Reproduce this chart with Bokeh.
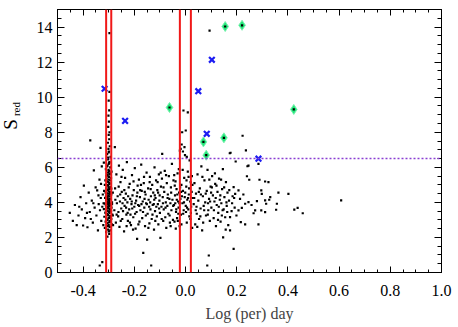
import math
from bokeh.plotting import figure
from bokeh.layouts import row
from bokeh.models import Span, LinearAxis, SingleIntervalTicker, Range1d, CustomJSTickFormatter
from bokeh.core.properties import value
from bokeh.embed import file_html
from bokeh.resources import INLINE

# ---------------- data ----------------
# blue crosses
cross_x = [-0.316, -0.236, 0.050, 0.103, 0.083, 0.285]
cross_y = [10.48, 8.65, 10.34, 12.13, 7.91, 6.49]
# green diamonds
diam_x = [-0.0625, 0.070, 0.081, 0.150, 0.155, 0.221, 0.423]
diam_y = [9.41, 7.45, 6.69, 7.68, 14.03, 14.10, 9.30]
# vertical red lines (log period) and dotted threshold
red_lines = [-0.31, -0.29, -0.022, 0.021]
threshold = 6.5

# black dots: dense column near -0.30
col_a = [
(-0.305,2.05),(-0.298,2.20),(-0.310,2.30),(-0.293,2.40),(-0.302,2.45),(-0.315,2.55),(-0.296,2.60),(-0.300,2.70),(-0.288,2.75),(-0.307,2.80),
(-0.301,2.85),(-0.312,2.90),(-0.295,2.95),(-0.304,3.00),(-0.290,3.05),(-0.309,3.10),(-0.299,3.12),(-0.317,3.18),(-0.294,3.22),(-0.303,3.28),
(-0.286,3.30),(-0.306,3.35),(-0.297,3.40),(-0.313,3.42),(-0.300,3.48),(-0.291,3.50),(-0.308,3.55),(-0.296,3.60),(-0.319,3.62),(-0.302,3.68),
(-0.289,3.70),(-0.305,3.75),(-0.298,3.78),(-0.311,3.82),(-0.294,3.85),(-0.303,3.90),(-0.316,3.93),(-0.299,3.97),(-0.287,4.00),(-0.306,4.05),
(-0.297,4.08),(-0.310,4.12),(-0.301,4.15),(-0.292,4.20),(-0.314,4.25),(-0.304,4.30),(-0.296,4.35),(-0.308,4.40),(-0.290,4.45),(-0.300,4.50),
(-0.312,4.55),(-0.295,4.60),(-0.305,4.68),(-0.298,4.75),(-0.309,4.80),(-0.293,4.88),(-0.302,4.95),(-0.315,5.00),(-0.297,5.10),(-0.306,5.20),
(-0.300,5.30),(-0.291,5.40),(-0.308,5.50),(-0.296,5.60),(-0.303,5.70),(-0.299,5.80),(-0.311,5.90),(-0.294,6.00),(-0.305,6.10),(-0.300,6.20),
(-0.297,6.30),(-0.302,6.45),(-0.293,6.60),(-0.306,6.75),(-0.299,6.90),(-0.301,7.05),(-0.296,7.20),(-0.303,7.40),(-0.298,7.60),(-0.300,7.85),
(-0.297,8.00),(-0.302,8.30),(-0.299,8.60),(-0.301,8.95),(-0.298,9.25),(-0.300,9.80),(-0.297,10.30),(-0.297,13.65),(-0.284,3.25),(-0.320,3.95),
(-0.299,2.35),(-0.303,2.65),(-0.296,2.88),(-0.308,3.02),(-0.292,3.15),(-0.301,3.25),(-0.311,3.38),(-0.298,3.45),(-0.304,3.52),(-0.294,3.58),
(-0.300,3.65),(-0.309,3.72),(-0.297,3.80),(-0.302,3.87),(-0.293,3.95),(-0.306,4.02),(-0.299,4.10),(-0.304,4.18),(-0.296,4.22),(-0.311,4.32),
(-0.301,4.38),(-0.294,4.48),(-0.307,4.52),(-0.299,4.62),(-0.303,4.72),(-0.290,4.78),(-0.300,4.85),(-0.305,4.98),(-0.297,5.05),(-0.302,5.15),
(-0.294,5.25),(-0.308,5.35),(-0.299,5.45),(-0.304,5.55),(-0.296,5.65),(-0.301,5.85),(-0.306,6.05),(-0.298,6.25),(-0.303,6.55),(-0.300,6.85),
]
# left wing of the cloud
cloud_b = [
(-0.452,3.40),(-0.440,2.95),(-0.432,3.85),(-0.425,2.70),(-0.418,3.25),(-0.410,4.30),(-0.405,3.60),(-0.400,2.68),(-0.397,4.96),(-0.392,3.10),
(-0.388,3.95),(-0.383,2.58),(-0.378,4.55),(-0.374,3.45),(-0.370,3.05),(-0.366,4.10),(-0.362,2.85),(-0.358,5.82),(-0.355,3.70),(-0.351,4.85),
(-0.348,3.25),(-0.345,4.68),(-0.342,2.40),(-0.339,3.90),(-0.336,5.30),(-0.334,3.55),(-0.331,4.25),(-0.329,2.95),(-0.327,6.05),(-0.325,3.75),
(-0.323,4.45),(-0.321,2.70),(-0.319,6.27),(-0.330,5.05),(-0.340,4.40),(-0.360,3.95),(-0.385,3.40),(-0.415,3.75),(-0.372,7.53),(-0.332,7.11),
(-0.335,0.40),(-0.325,0.59),
]
# middle of the cloud
cloud_c = [
(-0.278,3.55),(-0.276,7.15),(-0.275,4.80),(-0.272,2.85),(-0.270,5.60),(-0.268,3.95),(-0.265,4.35),(-0.263,3.20),(-0.260,6.10),(-0.258,2.60),
(-0.256,4.05),(-0.254,5.15),(-0.251,3.65),(-0.249,4.60),(-0.247,3.05),(-0.245,5.85),(-0.242,4.25),(-0.240,2.35),(-0.238,3.80),(-0.236,5.40),
(-0.233,4.50),(-0.231,3.30),(-0.229,6.30),(-0.227,4.00),(-0.225,2.95),(-0.222,4.85),(-0.220,3.60),(-0.218,5.05),(-0.216,4.20),(-0.213,2.70),
(-0.211,3.90),(-0.209,5.55),(-0.207,4.40),(-0.204,3.15),(-0.202,4.70),(-0.200,3.75),(-0.198,5.95),(-0.195,2.50),(-0.193,4.10),(-0.191,3.45),
(-0.189,1.92),(-0.187,4.95),(-0.185,3.85),(-0.182,5.30),(-0.180,2.90),(-0.178,4.30),(-0.176,3.55),(-0.173,6.15),(-0.171,4.65),(-0.169,3.10),
(-0.167,4.05),(-0.165,1.12),(-0.163,5.10),(-0.161,3.70),(-0.158,2.65),(-0.156,4.45),(-0.154,3.95),(-0.152,5.70),(-0.150,1.87),(-0.148,3.35),
(-0.146,4.80),(-0.144,4.15),(-0.141,2.80),(-0.139,5.45),(-0.137,3.60),(-0.135,4.35),(-0.134,0.40),(-0.132,3.05),(-0.130,5.00),(-0.128,3.85),
(-0.126,4.55),(-0.123,2.45),(-0.121,6.00),(-0.119,3.50),(-0.117,4.25),(-0.115,5.25),(-0.112,3.20),(-0.110,4.70),(-0.108,3.90),(-0.106,2.75),
(-0.104,5.60),(-0.102,4.10),(-0.100,3.40),(-0.098,1.98),(-0.096,4.90),(-0.094,3.75),(-0.092,5.35),(-0.091,6.77),(-0.089,4.30),(-0.087,2.95),
(-0.085,3.60),(-0.083,4.60),(-0.081,5.80),(-0.079,3.15),(-0.077,4.00),(-0.075,2.55),(-0.073,5.10),(-0.071,3.80),(-0.069,4.45),(-0.067,3.35),
(-0.065,5.50),(-0.063,4.20),(-0.061,2.85),(-0.059,3.95),(-0.057,4.85),(-0.055,3.55),(-0.053,6.20),(-0.051,4.15),(-0.049,3.00),(-0.047,5.25),
(-0.262,3.45),(-0.244,3.50),(-0.226,3.40),(-0.208,3.65),(-0.190,4.35),(-0.172,3.90),(-0.155,3.25),(-0.138,4.00),(-0.120,4.40),(-0.103,3.65),
(-0.255,4.45),(-0.235,4.15),(-0.215,3.30),(-0.196,3.95),(-0.177,4.70),(-0.160,4.20),(-0.142,3.75),(-0.124,3.90),(-0.107,4.55),(-0.088,3.95),
]
# second column near 0.0
cloud_d = [
(-0.045,3.85),(-0.043,2.90),(-0.041,4.40),(-0.039,5.20),(-0.037,3.45),(-0.035,4.75),(-0.033,3.10),(-0.031,5.65),(-0.029,4.05),(-0.027,3.70),
(-0.025,4.55),(-0.023,2.65),(-0.022,6.95),(-0.020,4.20),(-0.018,3.30),(-0.016,5.00),(-0.015,7.30),(-0.013,8.00),(-0.012,3.95),(-0.010,4.65),
(-0.008,9.24),(-0.007,3.55),(-0.005,5.40),(-0.003,4.30),(-0.002,6.70),(0.001,8.10),(0.001,3.80),(0.003,4.90),(0.005,2.85),(0.007,4.15),
(0.009,9.13),(0.009,5.75),(0.011,3.60),(0.013,4.45),(0.015,3.20),(0.016,6.40),(0.018,4.05),(0.020,5.15),(0.022,3.75),(0.024,4.60),
(0.026,2.55),(0.028,4.25),(-0.040,3.95),(-0.034,4.15),(-0.028,3.35),(-0.021,4.85),(-0.014,4.35),(-0.006,4.00),(0.002,3.45),(0.010,4.25),
(-0.019,7.05),(-0.010,6.90),(-0.004,7.15),(0.005,6.60),(-0.026,5.90),(-0.011,5.85),(0.012,5.45),(-0.044,5.55),(-0.030,2.95),(0.019,3.05),
]
# right of 0.0
cloud_e = [
(0.032,3.90),(0.035,5.10),(0.038,2.75),(0.041,4.50),(0.044,3.35),(0.047,5.60),(0.050,4.10),(0.053,3.05),(0.056,4.80),(0.059,3.65),
(0.062,6.05),(0.065,2.40),(0.068,4.35),(0.071,3.80),(0.074,5.25),(0.077,4.00),(0.080,3.25),(0.083,4.65),(0.085,0.40),(0.086,5.85),
(0.089,3.55),(0.091,0.97),(0.092,4.20),(0.094,13.79),(0.095,2.95),(0.098,4.90),(0.101,3.70),(0.104,5.50),(0.107,4.40),(0.110,3.10),
(0.113,4.05),(0.116,5.05),(0.119,2.65),(0.122,3.85),(0.125,4.60),(0.128,3.40),(0.131,5.35),(0.134,4.15),(0.137,2.90),(0.140,3.95),
(0.143,4.75),(0.146,5.90),(0.147,2.00),(0.149,3.60),(0.152,4.30),(0.155,3.15),(0.158,5.15),(0.161,3.80),(0.164,4.55),(0.167,2.70),
(0.170,4.10),(0.173,6.80),(0.174,3.16),(0.174,2.40),(0.176,6.83),(0.180,3.50),(0.184,4.35),(0.188,4.87),(0.188,1.35),(0.192,3.70),
(0.196,6.33),(0.194,4.49),(0.060,4.45),(0.088,3.95),(0.118,4.25),(0.145,3.55),(0.040,3.55),(0.100,4.55),(0.130,3.75),(0.160,4.00),
]
# right tail
cloud_f = [
(0.207,4.68),(0.207,3.54),(0.216,2.87),(0.220,3.69),(0.223,7.80),(0.233,3.92),(0.233,2.74),(0.236,6.96),(0.240,5.49),(0.242,6.06),
(0.246,6.09),(0.246,4.01),(0.249,5.29),(0.266,3.38),(0.272,3.54),(0.279,4.07),(0.285,2.74),(0.285,6.20),(0.289,5.29),(0.296,4.68),
(0.296,3.54),(0.298,4.49),(0.311,5.19),(0.311,4.11),(0.311,3.44),(0.315,3.92),(0.324,5.15),(0.327,4.15),(0.331,4.30),(0.354,3.58),
(0.357,3.92),(0.363,4.55),(0.402,4.49),(0.425,3.59),(0.438,3.69),(0.458,3.38),(0.608,4.11),(0.213,4.20),(0.226,4.45),(0.258,3.85),
]
# extra filling of the main body of the cloud
cloud_g = [
(-0.274,4.15),(-0.269,3.30),(-0.261,4.90),(-0.253,2.95),(-0.246,3.95),(-0.239,4.70),(-0.232,3.70),(-0.224,4.35),(-0.217,2.85),(-0.210,4.05),
(-0.203,5.20),(-0.197,3.35),(-0.188,4.55),(-0.181,3.80),(-0.174,5.00),(-0.166,3.45),(-0.159,4.60),(-0.151,3.90),(-0.145,2.55),(-0.136,4.75),
(-0.129,3.30),(-0.122,4.15),(-0.114,3.75),(-0.109,5.15),(-0.101,4.40),(-0.093,3.05),(-0.086,4.85),(-0.078,3.70),(-0.070,4.25),(-0.062,3.25),
(-0.056,4.55),(-0.048,3.80),(-0.042,4.95),(-0.036,3.60),(-0.032,4.45),(-0.024,3.95),(-0.017,4.60),(-0.009,3.35),(-0.001,4.55),(0.006,3.70),
(0.014,4.80),(0.021,3.40),(0.027,5.00),(0.034,4.25),(0.043,3.75),(0.052,4.60),(0.058,3.20),(0.066,5.45),(0.073,3.55),(0.079,4.50),
(0.087,3.30),(0.096,4.05),(0.103,4.85),(0.111,3.55),(0.121,4.95),(0.127,3.00),(0.136,4.40),(0.142,3.25),(0.151,4.85),(0.163,3.45),
(0.171,4.70),(0.182,3.95),(0.190,4.25),(0.199,3.25),(-0.284,4.55),(-0.283,2.70),(-0.318,4.65),(-0.289,5.75),(-0.313,5.25),(-0.287,3.90),
(-0.250,5.45),(-0.230,2.65),(-0.205,2.45),(-0.184,2.75),(-0.162,5.45),(-0.140,5.15),(-0.118,2.95),(-0.097,5.70),(-0.076,5.55),(-0.058,2.65),
(-0.038,2.50),(-0.016,2.75),(0.004,5.25),(0.025,5.50),(0.046,2.60),(0.069,2.85),(0.093,5.30),(0.115,5.65),(0.139,5.30),(0.157,2.45),
]

x_ticks_interval = 0.2
y_ticks_interval = 2
x_label = "Log (per) day"
y_label_main = "S"
y_label_sub = "red"

SERIF = "Liberation Serif"
FIG_H = 325
LAB_W = 24

# ---------------- main figure ----------------
p = figure(width=428, height=FIG_H,
           x_range=Range1d(-0.5, 1.0), y_range=Range1d(0, 15),
           output_backend="svg", toolbar_location=None,
           min_border_left=57 - LAB_W, min_border_right=11, min_border_top=9, min_border_bottom=53)
p.grid.visible = False
p.outline_line_color = "black"
p.background_fill_color = "white"
p.border_fill_color = "white"

def style_axis(ax, ticker, show_labels, tick_in, minor_in):
    ax.ticker = ticker
    ax.axis_line_color = "black"
    ax.axis_line_width = 1
    ax.major_tick_in = tick_in
    ax.major_tick_out = 0
    ax.minor_tick_in = minor_in
    ax.minor_tick_out = 0
    ax.major_tick_line_color = "black"
    ax.minor_tick_line_color = "black"
    ax.major_label_text_font = SERIF
    ax.major_label_text_color = "black"
    if not show_labels:
        # mirror axis: ticks only, no tick labels
        ax.formatter = CustomJSTickFormatter(code="return ''")
        ax.major_label_text_font_size = "1px"
        ax.major_label_standoff = 0
    else:
        ax.major_label_text_font_size = "16px"

bx = p.below[0]
style_axis(bx, SingleIntervalTicker(interval=x_ticks_interval, num_minor_ticks=4), True, 6, 3)
bx.major_label_standoff = 12
bx.major_label_overrides = {-0.4: "-0.4", -0.2: "-0.2", 0: "0.0", 0.2: "0.2", 0.4: "0.4",
                            0.6: "0.6", 0.8: "0.8", 1: "1.0"}
bx.axis_label = x_label
bx.axis_label_text_font = SERIF
bx.axis_label_text_font_style = "normal"
bx.axis_label_text_font_size = "16px"
bx.axis_label_standoff = 6

ly = p.left[0]
style_axis(ly, SingleIntervalTicker(interval=y_ticks_interval, num_minor_ticks=4), True, 7, 4)
ly.major_label_standoff = 5

top = LinearAxis()
style_axis(top, SingleIntervalTicker(interval=x_ticks_interval, num_minor_ticks=4), False, 6, 3)
p.add_layout(top, "above")
right = LinearAxis()
style_axis(right, SingleIntervalTicker(interval=y_ticks_interval, num_minor_ticks=4), False, 7, 4)
p.add_layout(right, "right")

# threshold line
p.add_layout(Span(location=threshold, dimension="width", line_color="#8a3fd2",
                  line_width=1.6, line_dash="2 2"))

# black dots
all_pts = col_a + cloud_b + cloud_c + cloud_d + cloud_e + cloud_f + cloud_g
dot_x = [a for a, b in all_pts]
dot_y = [b for a, b in all_pts]
p.scatter(dot_x, dot_y, marker="square", size=2.2, fill_color="black", line_color=None)

# red lines
for xv in red_lines:
    p.add_layout(Span(location=xv, dimension="height", line_color="#f01818", line_width=2))

# green diamonds with central dot
p.scatter(diam_x, diam_y, marker="diamond", size=10, fill_color="#22e87a",
          line_color="#7cf2b0", line_width=1)
p.scatter(diam_x, diam_y, marker="square", size=2.2, fill_color="black", line_color=None)

# blue crosses
p.scatter(cross_x, cross_y, marker="x", size=8, line_color="#1c1cf2", line_width=2.2)

# ---------------- y-axis title strip (S with subscript "red") ----------------
lab = figure(width=LAB_W, height=FIG_H, x_range=Range1d(0, LAB_W), y_range=Range1d(0, FIG_H),
             output_backend="svg", toolbar_location=None,
             x_axis_location=None, y_axis_location=None, min_border=0)
lab.grid.visible = False
lab.outline_line_color = None
lab.background_fill_color = "white"
lab.border_fill_color = "white"
lab.text(x=[10], y=[FIG_H - 142], text=[y_label_main], angle=math.pi / 2,
         text_font=value(SERIF), text_font_size="19px", text_align="center",
         text_baseline="middle", text_color="black")
lab.text(x=[15], y=[FIG_H - 123], text=[y_label_sub], angle=math.pi / 2,
         text_font=value(SERIF), text_font_size="11px", text_align="center",
         text_baseline="middle", text_color="black")

layout = row(lab, p, spacing=0)
open("out.html", "w").write(file_html(layout, INLINE))
